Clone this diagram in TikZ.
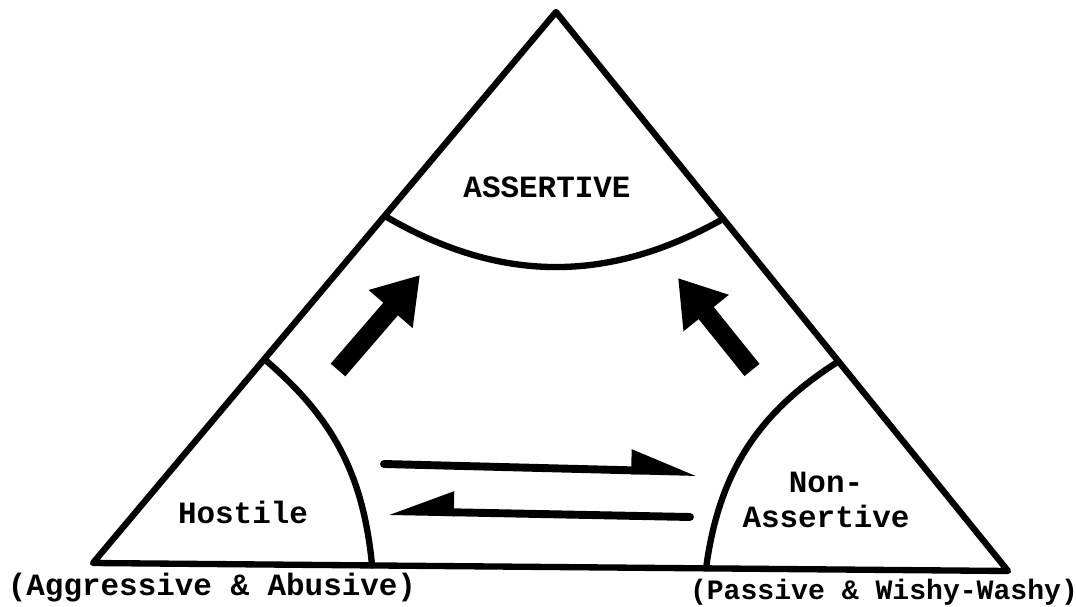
\documentclass[tikz,border=0pt]{standalone}
\usepackage{fontspec}
\setmonofont{Liberation Mono}
\usepackage{tikz}
\usetikzlibrary{arrows.meta,calc}

\begin{document}
\begin{tikzpicture}[x=.02cm,y=.02cm,
    txt/.style={font=\ttfamily\bfseries\fontsize{17.6}{20}\selectfont,
    inner sep=0pt},
    side/.style={line width=3.6pt,line join=round,line cap=round},
    bigarrow/.style={line width=11pt,-{Triangle[length=.9cm,width=1.1cm]}},
    harp/.style={line width=4.5pt,line cap=round,
    -{Triangle[harpoon,length=1.1cm,width=.8cm]}},
    harpswap/.style={line width=4.5pt,line cap=round,
    -{Triangle[harpoon,swap,length=1.1cm,width=.8cm]}}]

  \useasboundingbox (0,0) rectangle (1076,606);

  \coordinate (TOP) at (556,594);
  \coordinate (LEFT) at (93,43);
  \coordinate (RIGHT) at (1008,35);

  \draw[side] (TOP) -- (LEFT) -- (RIGHT) -- cycle;

  \coordinate (T1) at ($(TOP)!.37!(LEFT)$);
  \coordinate (T2) at ($(TOP)!.37!(RIGHT)$);
  \coordinate (L1) at ($(TOP)!.63!(LEFT)$);
  \coordinate (L2) at ($(LEFT)!.305!(RIGHT)$);
  \coordinate (R1) at ($(TOP)!.625!(RIGHT)$);
  \coordinate (R2) at ($(LEFT)!.67!(RIGHT)$);

  \draw[side] (T1) to [bend right=30] (T2);
  \draw[side] (L1) to [bend left=22] (L2);
  \draw[side] (R1) to [bend right=25] (R2);

  \node[txt] (ASSERT) at (547,419) {ASSERTIVE};
  \node[txt] (HOST) at (243,94) {Hostile};
  \node[txt,align=center] (NONASS) at (826,106) {Non-\\Assertive};

  \node[txt] (AGGR) at (212,18) {(Aggressive \& Abusive)};
  \node[txt,font=\ttfamily\bfseries\fontsize{16}{18}\selectfont]
    (PASS) at (884,14) {(Passive \& Wishy-Washy)};

  \coordinate (UA1) at (338,236);
  \coordinate (UA2) at (420,331);
  \coordinate (UB1) at (752,236);
  \coordinate (UB2) at (678,328);

  \draw[bigarrow] (UA1) -- (UA2);
  \draw[bigarrow] (UB1) -- (UB2);

  \coordinate (H1) at (384,142);
  \coordinate (H2) at (697,134);
  \coordinate (H3) at (690,89);
  \coordinate (H4) at (388,95);

  \draw[harp] (H1) -- (H2);
  \draw[harpswap] (H3) -- (H4);

\end{tikzpicture}
\end{document}
